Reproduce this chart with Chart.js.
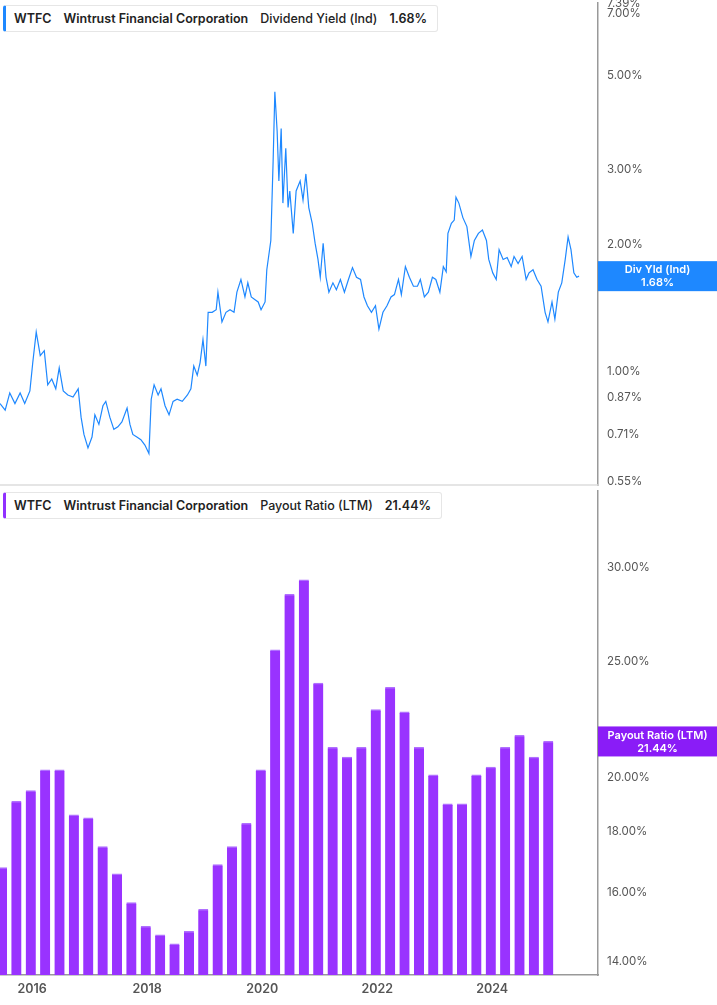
<!DOCTYPE html>
<html><head><meta charset="utf-8">
<script src="https://cdn.jsdelivr.net/npm/chart.js@4/dist/chart.umd.min.js"></script>
<style>
body{margin:0;background:#fff;font-family:Inter,"Noto Sans",sans-serif;overflow:hidden;}
#w1{position:absolute;left:0;top:-10px;width:717px;height:508px;}
#w2{position:absolute;left:0;top:478px;width:717px;height:527px;}
.leg{position:absolute;left:3px;background:#fff;border:1px solid #e6e6e6;border-left:3px solid;border-radius:3px;font-size:12.5px;font-weight:600;color:#222;padding:5px 10px 5px 8px;white-space:nowrap;}
.leg span{margin-right:12px}
.leg .n{font-weight:500}
</style></head><body>
<div id="w2"><canvas id="c2"></canvas></div>
<div id="w1"><canvas id="c1"></canvas></div>
<div class="leg" style="top:5px;border-left-color:#1e88ff"><span>WTFC</span><span>Wintrust Financial Corporation</span><span class="n">Dividend Yield (Ind)</span>1.68%</div>
<div class="leg" style="top:492px;border-left-color:#9030ff"><span>WTFC</span><span>Wintrust Financial Corporation</span><span class="n">Payout Ratio (LTM)</span>21.44%</div>
<script>
const yieldYears=[2015.44,2015.53,2015.61,2015.70,2015.79,2015.87,2015.96,2016.01,2016.07,2016.14,2016.21,2016.27,2016.34,2016.41,2016.47,2016.54,2016.62,2016.71,2016.80,2016.85,2016.90,2016.97,2017.04,2017.09,2017.16,2017.23,2017.28,2017.35,2017.42,2017.49,2017.56,2017.65,2017.70,2017.75,2017.82,2017.89,2017.96,2018.03,2018.07,2018.12,2018.19,2018.24,2018.31,2018.38,2018.45,2018.52,2018.61,2018.70,2018.76,2018.81,2018.87,2018.92,2018.97,2019.02,2019.06,2019.13,2019.20,2019.23,2019.30,2019.37,2019.44,2019.51,2019.56,2019.63,2019.70,2019.75,2019.81,2019.87,2019.93,2019.98,2020.05,2020.08,2020.15,2020.19,2020.22,2020.26,2020.29,2020.33,2020.36,2020.41,2020.45,2020.48,2020.54,2020.59,2020.66,2020.71,2020.76,2020.81,2020.87,2020.92,2020.97,2021.01,2021.06,2021.11,2021.16,2021.23,2021.29,2021.36,2021.43,2021.50,2021.57,2021.64,2021.71,2021.77,2021.83,2021.90,2021.97,2022.03,2022.10,2022.17,2022.24,2022.30,2022.37,2022.42,2022.49,2022.56,2022.63,2022.70,2022.75,2022.82,2022.89,2022.96,2023.02,2023.09,2023.15,2023.20,2023.23,2023.29,2023.34,2023.37,2023.42,2023.49,2023.56,2023.63,2023.69,2023.76,2023.83,2023.90,2023.94,2024.01,2024.07,2024.12,2024.19,2024.26,2024.33,2024.38,2024.45,2024.52,2024.59,2024.64,2024.71,2024.78,2024.85,2024.92,2024.97,2025.04,2025.09,2025.15,2025.21,2025.27,2025.32,2025.37,2025.42,2025.47,2025.51];
const yieldVals=[0.84,0.81,0.89,0.84,0.89,0.84,0.90,1.05,1.24,1.09,1.12,0.93,0.96,0.91,1.02,0.90,0.88,0.87,0.91,0.78,0.71,0.66,0.70,0.79,0.75,0.83,0.85,0.78,0.73,0.74,0.76,0.82,0.75,0.71,0.70,0.69,0.67,0.64,0.86,0.93,0.88,0.91,0.83,0.79,0.85,0.86,0.85,0.88,0.91,1.03,0.98,1.05,1.19,1.03,1.38,1.38,1.40,1.54,1.31,1.38,1.40,1.38,1.54,1.65,1.50,1.62,1.50,1.48,1.46,1.40,1.46,1.74,2.04,3.14,4.58,3.69,2.82,3.75,2.50,3.37,2.44,2.67,2.12,2.67,2.82,2.54,2.93,2.44,2.24,2.01,1.84,1.67,2.01,1.67,1.54,1.62,1.56,1.65,1.54,1.65,1.76,1.67,1.65,1.50,1.43,1.38,1.43,1.26,1.38,1.43,1.50,1.52,1.65,1.52,1.77,1.67,1.59,1.59,1.65,1.50,1.54,1.67,1.65,1.54,1.77,1.72,2.12,2.24,2.28,2.58,2.50,2.31,2.20,1.87,2.04,2.12,2.16,2.04,1.84,1.71,1.65,1.94,1.84,1.86,1.77,1.87,1.80,1.87,1.65,1.71,1.74,1.65,1.59,1.38,1.31,1.46,1.33,1.54,1.62,1.84,2.08,1.94,1.71,1.67,1.68];
const yieldTicks=[0.55,0.71,0.87,1,2,3,5,7,7.39];
const quarters=["2015Q2","2015Q3","2015Q4","2016Q1","2016Q2","2016Q3","2016Q4","2017Q1","2017Q2","2017Q3","2017Q4","2018Q1","2018Q2","2018Q3","2018Q4","2019Q1","2019Q2","2019Q3","2019Q4","2020Q1","2020Q2","2020Q3","2020Q4","2021Q1","2021Q2","2021Q3","2021Q4","2022Q1","2022Q2","2022Q3","2022Q4","2023Q1","2023Q2","2023Q3","2023Q4","2024Q1","2024Q2","2024Q3","2024Q4","2025Q1"];
const payout=[16.2,16.8,19.1,19.5,20.3,20.3,18.6,18.5,17.5,16.6,15.7,15.0,14.75,14.5,14.85,15.5,16.9,17.5,18.3,20.3,25.6,28.5,29.3,24.0,21.2,20.8,21.2,22.8,23.8,22.7,21.2,20.1,19.0,19.0,20.1,20.4,21.2,21.7,20.8,21.44];
const payoutTicks=[14,16,18,20,25,30];
const yearTicks=[2016,2018,2020,2022,2024];

const qYear=q=>+q.slice(0,4)+(+q.slice(5))*0.25-0.275;
const font={family:'Inter, "Noto Sans", sans-serif',size:11.5};
const yAxis=(min,max,ticks)=>({type:'logarithmic',position:'right',min,max,
  border:{color:'#999',width:1.5},grid:{display:false,drawTicks:true,tickLength:3,tickColor:'#777'},
  afterBuildTicks:s=>{s.ticks=ticks.map(v=>({value:v}));},
  afterFit:s=>{s.width=119;},
  ticks:{color:'#555',font,padding:6,autoSkip:false,callback:v=>v.toFixed(2)+'%'}});
const badge=(text,val,color)=>({id:'badge',afterDraw(c){const s=c.scales.y,ctx=c.ctx,y=s.getPixelForValue(val),x=s.left;
  ctx.save();ctx.fillStyle=color;ctx.fillRect(x,y-15,c.width-x,30);ctx.fillStyle='#fff';ctx.font='600 11px Inter, sans-serif';ctx.textAlign='center';ctx.textBaseline='middle';
  const cx=(x+c.width)/2;ctx.fillText(text,cx,y-6);ctx.fillText(val.toFixed(2)+'%',cx,y+7);ctx.restore();}});
const sep={id:'sep',afterDraw(c){const ctx=c.ctx,b=c.chartArea.bottom;ctx.save();ctx.strokeStyle='#ddd';ctx.lineWidth=1.5;ctx.beginPath();ctx.moveTo(0,b);ctx.lineTo(c.scales.y.left,b);ctx.stroke();ctx.restore();}};

new Chart(document.getElementById('c1'),{type:'line',
 data:{datasets:[{data:yieldYears.map((x,i)=>({x,y:yieldVals[i]})),borderColor:'#1e88ff',borderWidth:1.2,pointRadius:0,tension:0}]},
 options:{responsive:true,maintainAspectRatio:false,animation:false,layout:{padding:0},
  plugins:{legend:{display:false},tooltip:{enabled:false}},
  scales:{x:{type:'linear',min:2015.44,max:2025.84,display:false},y:yAxis(0.539,7.43,yieldTicks)}},
 plugins:[badge('Div Yld (Ind)',1.68,'#1e88ff'),sep]});

new Chart(document.getElementById('c2'),{type:'bar',
 data:{datasets:[{data:quarters.map((q,i)=>({x:qYear(q),y:payout[i]})),backgroundColor:'#9933ff',borderColor:'#b070ff',borderWidth:{top:1.5,left:0,right:0,bottom:0},barThickness:10,base:13.65}]},
 options:{responsive:true,maintainAspectRatio:false,animation:false,layout:{padding:0},
  plugins:{legend:{display:false},tooltip:{enabled:false}},
  scales:{x:{type:'linear',offset:false,min:2015.44,max:2025.84,border:{color:'#999',width:1.5},grid:{display:false,offset:false,tickLength:3,tickColor:'#777'},
     afterBuildTicks:s=>{s.ticks=yearTicks.map(v=>({value:v}));},afterFit:s=>{s.height=30;},
     ticks:{color:'#555',font:{...font,size:12.5,weight:'600'},padding:4,callback:v=>String(v)}},
   y:yAxis(13.65,34.8,payoutTicks)}},
 plugins:[badge('Payout Ratio (LTM)',21.44,'#8a1cf7')]});
</script></body></html>
